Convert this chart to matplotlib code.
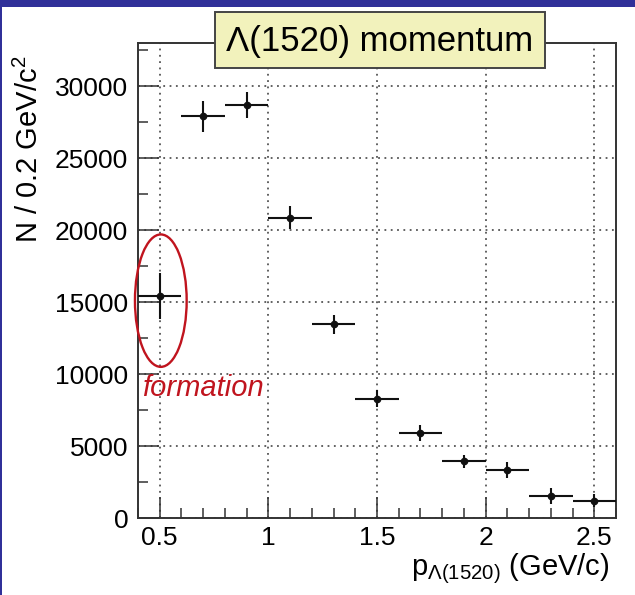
import matplotlib
matplotlib.use('Agg')
import matplotlib.pyplot as plt
from matplotlib.patches import Ellipse, Rectangle
from matplotlib.ticker import MultipleLocator

# Lambda(1520) momentum spectrum, bins of 0.2 GeV/c
p_centers = [0.5, 0.7, 0.9, 1.1, 1.3, 1.5, 1.7, 1.9, 2.1, 2.3, 2.5]
counts = [15400, 27900, 28700, 20850, 13450, 8300, 5900, 3950, 3350, 1500, 1200]
count_errs = [1600, 1100, 900, 800, 650, 600, 550, 450, 550, 550, 450]
bin_half = [0.1] * len(p_centers)

title = 'Λ(1520) momentum'
xlabel = r'p$_{\Lambda(1520)}$ (GeV/c)'
ylabel = r'N / 0.2 GeV/c$^2$'
note = 'formation'

plt.rcParams['font.family'] = ['Liberation Sans', 'DejaVu Sans']
plt.rcParams['mathtext.fontset'] = 'custom'
plt.rcParams['mathtext.rm'] = 'Liberation Sans'
plt.rcParams['mathtext.it'] = 'Liberation Sans:italic'

fig = plt.figure(figsize=(6.35, 5.95), dpi=100)
W, H = 635, 595
ax = fig.add_axes([138 / W, 1 - 518 / H, (616 - 138) / W, (518 - 43) / H])

ax.errorbar(p_centers, counts, xerr=bin_half, yerr=count_errs, fmt='o', color='#111111',
            markersize=4.5, elinewidth=1.5, capsize=0, zorder=3)

ax.set_xlim(0.4, 2.6)
ax.set_ylim(0, 33000)
ax.xaxis.set_minor_locator(MultipleLocator(0.1))
ax.yaxis.set_major_locator(MultipleLocator(5000))
ax.yaxis.set_minor_locator(MultipleLocator(2500))
ax.set_xticks([0.5, 1, 1.5, 2, 2.5], ['0.5', '1', '1.5', '2', '2.5'])
ax.tick_params(which='both', direction='in', top=False, right=False, labelsize=19, width=1.1, color='#333333')
ax.tick_params(which='major', length=15)
ax.tick_params(which='minor', length=7)
ax.tick_params(axis='x', pad=6)
ax.tick_params(axis='y', pad=7)
ax.grid(True, which='major', color='#555555', linestyle=(0, (1, 2.5)), linewidth=1.3)
for s in ax.spines.values():
    s.set_linewidth(1.4)
    s.set_color('#333333')

# formation region
ax.add_patch(Ellipse((0.505, 15100), 0.238, 9200, fill=False, edgecolor='#c0141e',
                     linewidth=1.7, clip_on=False, zorder=4))
ax.text(0.418, 8470, note, color='#c0141e', fontsize=21, style='italic', va='baseline', ha='left')

fig.text(29 / W, 1 - 56 / H, ylabel, rotation=90, ha='center', va='top', fontsize=21)
fig.text(610 / W, 1 - 569 / H, xlabel, ha='right', va='center', fontsize=21)

# title box
fig.patches.append(Rectangle((215 / W, 1 - 68 / H), 330 / W, 56 / H, transform=fig.transFigure,
                             facecolor='#f2f2bc', edgecolor='#444444', linewidth=1.4, zorder=5))
fig.text(380 / W, 1 - 41 / H, title, ha='center', va='center', fontsize=25, zorder=6)

# slide frame
fig.patches.append(Rectangle((0, 1 - 7 / H), 1, 7 / H, transform=fig.transFigure,
                             facecolor='#303099', edgecolor='none', zorder=7))
fig.patches.append(Rectangle((0, 0), 2 / W, 1, transform=fig.transFigure,
                             facecolor='#303099', edgecolor='none', zorder=7))

fig.savefig('out.png', dpi=100)
